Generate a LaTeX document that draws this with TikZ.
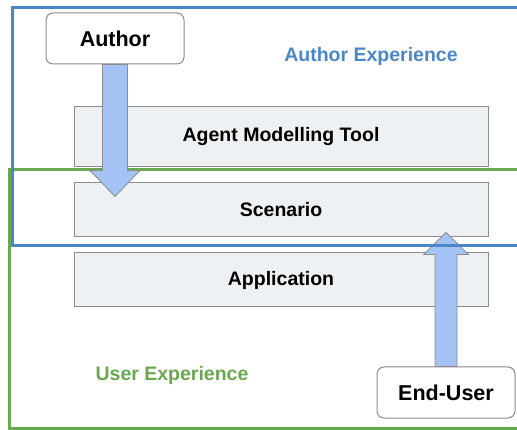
\documentclass[tikz,border=0pt]{standalone}
\usepackage{fontspec}
\setmainfont{Liberation Sans}
\definecolor{authorblue}{HTML}{4A86C8}
\definecolor{usergreen}{HTML}{6AA84F}
\definecolor{layerfill}{HTML}{EEF1F4}
\definecolor{arrowfill}{HTML}{A4C2F4}
\definecolor{edgegray}{HTML}{8C8C8C}
\tikzset{
  layer/.style={draw=edgegray, fill=layerfill, line width=1pt, minimum width=414pt,
    minimum height=54pt, inner sep=0pt, font=\fontsize{19.5}{23}\selectfont\bfseries},
  actor/.style={draw=edgegray, fill=white, rounded corners=7pt, line width=1pt,
    minimum width=138pt, minimum height=51pt, inner sep=0pt,
    font=\fontsize{21.5}{25}\selectfont\bfseries},
  blockarrow/.style={draw=edgegray, fill=arrowfill, line width=0.8pt},
  region/.style={line width=3pt},
  regionlabel/.style={font=\fontsize{19.5}{23}\selectfont\bfseries}
}
\begin{document}
\begin{tikzpicture}[x=1pt, y=-1pt]
\useasboundingbox (0,0) rectangle (517,430);
\clip (0,0) rectangle (517,430);
% user side
\draw[region, usergreen] (9,170) rectangle (540,428);
\node[regionlabel, text=usergreen] (userexp) at (172,375) {User Experience};
% layers
\node[layer, minimum height=60pt] (tool) at (281,137) {Agent Modelling Tool};
\foreach \n/\y/\t in {scenario/210/Scenario, application/280/Application}
  \node[layer] (\n) at (281,\y) {\t};
% actors
\node[actor] (author) at (115,38.5) {Author};
\node[actor] (enduser) at (446,392.5) {End-User};
% fat arrows
\draw[blockarrow] (author.south) ++(-12.5,0) -- ++(0,106) -- ++(-12.5,0)
  -- ++(25,26) -- ++(25,-26) -- ++(-12.5,0) -- ++(0,-106) -- cycle;
\draw[blockarrow] (enduser.north) ++(-11,0) -- ++(0,-112) -- ++(-11.5,0)
  -- ++(22.5,-22) -- ++(22.5,22) -- ++(-11.5,0) -- ++(0,112) -- cycle;
% author side
\draw[region, authorblue] (12,8) rectangle (540,246);
\node[regionlabel, text=authorblue] (authorexp) at (371,56) {Author Experience};
\end{tikzpicture}
\end{document}
